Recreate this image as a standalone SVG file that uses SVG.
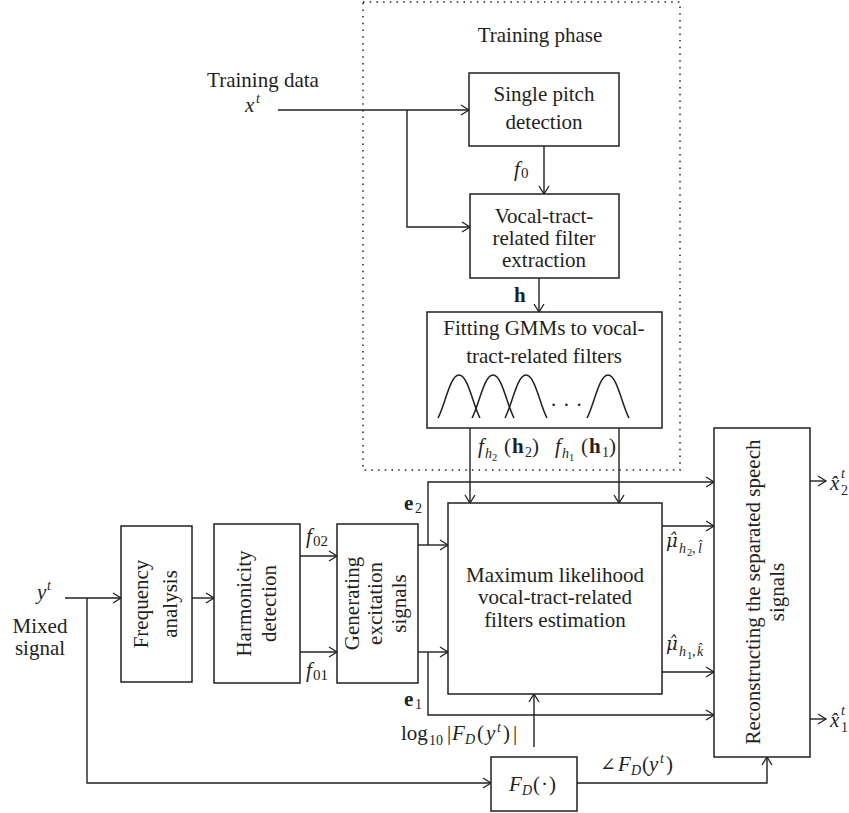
<svg xmlns="http://www.w3.org/2000/svg" width="849" height="813" viewBox="0 0 849 813">
<style>
.t{font-family:"Liberation Serif","DejaVu Serif",serif;font-size:21px;fill:#231f20}
.c{text-anchor:middle}
.i{font-style:italic}
.b{font-weight:bold}
.s{font-size:14px}
.ss{font-size:10.5px}
.mu{font-family:"DejaVu Serif",serif;font-style:italic;font-size:18px}
.box{fill:#fff;stroke:#231f20;stroke-width:1.5}
.ln{fill:none;stroke:#231f20;stroke-width:1.4}
.arr{marker-end:url(#ah)}
.dot{fill:none;stroke:#231f20;stroke-width:1.5;stroke-dasharray:1.5 5.2}
.g{fill:none;stroke:#231f20;stroke-width:1.5}
</style>
<defs>
<marker id="ah" viewBox="-10 -6 12 12" refX="0" refY="0" markerWidth="12" markerHeight="12" markerUnits="userSpaceOnUse" orient="auto">
<path d="M-8,-5 L0,0 L-8,5" fill="none" stroke="#231f20" stroke-width="1.3"/>
</marker>
</defs>
<rect width="849" height="813" fill="#fff"/>

<g id="training-phase">
<rect class="dot" x="363" y="2" width="317" height="468"/>
<text class="t c" x="540" y="42">Training phase</text>
</g>

<g id="connectors">
<path class="ln arr" d="M278,110 H469"/>
<path class="ln arr" d="M407,110 V227 H470"/>
<path class="ln arr" d="M544,146 V194"/>
<path class="ln arr" d="M539,278 V312"/>
<path class="ln arr" d="M470,428 V503"/>
<path class="ln arr" d="M619,428 V503"/>
<path class="ln arr" d="M65,598 H121"/>
<path class="ln arr" d="M87,598 V783 H491"/>
<path class="ln arr" d="M192,598 H214"/>
<path class="ln arr" d="M300,556 H337"/>
<path class="ln arr" d="M300,652 H337"/>
<path class="ln arr" d="M418,545 H448"/>
<path class="ln arr" d="M428,545 V482 H714"/>
<path class="ln arr" d="M418,652 H448"/>
<path class="ln arr" d="M428,652 V715 H714"/>
<path class="ln arr" d="M662,526 H714"/>
<path class="ln arr" d="M662,672 H714"/>
<path class="ln arr" d="M534,747 V694"/>
<path class="ln arr" d="M577,783 H767 V757"/>
<path class="ln arr" d="M810,481 H826"/>
<path class="ln arr" d="M810,719 H826"/>
</g>

<g id="training-data">
<text class="t c" x="263" y="87">Training data</text>
<text class="t" x="245" y="112"><tspan class="i">x</tspan><tspan class="i s" x="256" y="103">t</tspan></text>
</g>

<g id="single-pitch">
<rect class="box" x="469" y="73" width="150" height="73"/>
<text class="t c" x="544" y="101">Single pitch</text>
<text class="t c" x="544" y="129">detection</text>
</g>

<g id="vocal-tract-extraction">
<rect class="box" x="470" y="194" width="149" height="84"/>
<text class="t c" x="544" y="223">Vocal-tract-</text>
<text class="t c" x="544" y="245">related filter</text>
<text class="t c" x="544" y="267">extraction</text>
</g>

<g id="labels-training">
<text class="t" x="514" y="176"><tspan class="i">f</tspan><tspan style="font-size:15px" x="521" y="178">0</tspan></text>
<text class="t b" x="514" y="302">h</text>
</g>

<g id="gmm">
<rect class="box" x="427" y="312" width="235" height="116"/>
<text class="t c" x="544" y="335">Fitting GMMs to vocal-</text>
<text class="t c" x="544" y="363">tract-related filters</text>
<path class="g" d="M438,418 C445,405 450,375 459,375 S473,405 480,418"/>
<path class="g" d="M472,418 C479,405 484,375 493,375 S507,405 514,418"/>
<path class="g" d="M505,418 C512,405 517,375 526,375 S540,405 547,418"/>
<path class="g" d="M587,418 C594,405 599,375 608,375 S622,405 629,418"/>
<text class="t" x="551" y="406" style="letter-spacing:7.5px">...</text>
</g>

<g id="gmm-outputs">
<text class="t" y="453"><tspan class="i" x="478">f</tspan><tspan class="i s" x="485" y="458">h</tspan><tspan class="ss" x="492" y="461">2</tspan><tspan x="504" y="453">(</tspan><tspan class="b" x="512">h</tspan><tspan class="s" x="525" y="457">2</tspan><tspan x="532" y="453">)</tspan></text>
<text class="t" y="453"><tspan class="i" x="555">f</tspan><tspan class="i s" x="562" y="458">h</tspan><tspan class="ss" x="569" y="461">1</tspan><tspan x="581" y="453">(</tspan><tspan class="b" x="589">h</tspan><tspan class="s" x="602" y="457">1</tspan><tspan x="609" y="453">)</tspan></text>
</g>

<g id="input">
<text class="t" x="37" y="599"><tspan class="i">y</tspan><tspan class="i s" x="47" y="590">t</tspan></text>
<text class="t c" x="40" y="633">Mixed</text>
<text class="t c" x="40" y="655">signal</text>
</g>

<g id="frequency-analysis">
<rect class="box" x="121" y="526" width="71" height="156"/>
<text class="t c" transform="translate(148,604) rotate(-90)">Frequency</text>
<text class="t c" transform="translate(177,604) rotate(-90)">analysis</text>
</g>

<g id="harmonicity-detection">
<rect class="box" x="214" y="524" width="86" height="159"/>
<text class="t c" transform="translate(251,603.5) rotate(-90)">Harmonicity</text>
<text class="t c" transform="translate(276,603.5) rotate(-90)">detection</text>
<text class="t" x="306" y="543"><tspan class="i">f</tspan><tspan style="font-size:15px" x="313" y="546">02</tspan></text>
<text class="t" x="306" y="677"><tspan class="i">f</tspan><tspan style="font-size:15px" x="313" y="680">01</tspan></text>
</g>

<g id="generating-excitation">
<rect class="box" x="337" y="524" width="81" height="159"/>
<text class="t c" transform="translate(359,603.5) rotate(-90)">Generating</text>
<text class="t c" transform="translate(382,603.5) rotate(-90)">excitation</text>
<text class="t c" transform="translate(406,603.5) rotate(-90)">signals</text>
<text class="t" x="404" y="510"><tspan class="b">e</tspan><tspan class="s" x="415" y="513">2</tspan></text>
<text class="t" x="404" y="706"><tspan class="b">e</tspan><tspan class="s" x="415" y="709">1</tspan></text>
</g>

<g id="ml-estimation">
<rect class="box" x="448" y="503" width="214" height="191"/>
<text class="t c" x="555" y="582">Maximum likelihood</text>
<text class="t c" x="555" y="604">vocal-tract-related</text>
<text class="t c" x="555" y="627">filters estimation</text>
</g>

<g id="ml-outputs">
<text class="t"><tspan class="mu" x="666" y="547">μ̂</tspan><tspan class="i s" x="679" y="553">h</tspan><tspan class="ss" x="687" y="556">2</tspan><tspan class="s" x="692" y="553">,</tspan><tspan class="i s" x="698" y="553">l̂</tspan></text>
<text class="t"><tspan class="mu" x="666" y="650">μ̂</tspan><tspan class="i s" x="679" y="656">h</tspan><tspan class="ss" x="687" y="659">1</tspan><tspan class="s" x="692" y="656">,</tspan><tspan class="i s" x="697" y="656">k̂</tspan></text>
</g>

<g id="fd">
<rect class="box" x="491" y="757" width="86" height="54"/>
<text class="t" y="791"><tspan class="i" x="509">F</tspan><tspan class="i s" x="522" y="795">D</tspan><tspan x="533" y="791">(</tspan><tspan x="541">·</tspan><tspan x="549">)</tspan></text>
<text class="t" y="740"><tspan x="401">log</tspan><tspan class="s" x="429" y="745">10</tspan><tspan x="447" y="740">|</tspan><tspan class="i" x="452">F</tspan><tspan class="i s" x="465" y="744">D</tspan><tspan x="477" y="740">(</tspan><tspan class="i" x="486">y</tspan><tspan class="i s" x="497" y="732">t</tspan><tspan x="503" y="740">)</tspan><tspan x="513">|</tspan></text>
<text class="t" y="771"><tspan x="600" style="font-size:19px">∠</tspan><tspan class="i" x="618">F</tspan><tspan class="i s" x="631" y="775">D</tspan><tspan x="642" y="771">(</tspan><tspan class="i" x="649">y</tspan><tspan class="i s" x="660" y="763">t</tspan><tspan x="666" y="771">)</tspan></text>
</g>

<g id="reconstruct">
<rect class="box" x="714" y="428" width="96" height="329"/>
<text class="t c" transform="translate(760,592) rotate(-90)">Reconstructing the separated speech</text>
<text class="t c" transform="translate(784,592) rotate(-90)">signals</text>
</g>

<g id="outputs">
<text class="t"><tspan class="i" x="830" y="490">x̂</tspan><tspan class="i s" x="841" y="478">t</tspan><tspan class="s" x="841" y="495">2</tspan></text>
<text class="t"><tspan class="i" x="830" y="727">x̂</tspan><tspan class="i s" x="841" y="715">t</tspan><tspan class="s" x="841" y="732">1</tspan></text>
</g>
</svg>
